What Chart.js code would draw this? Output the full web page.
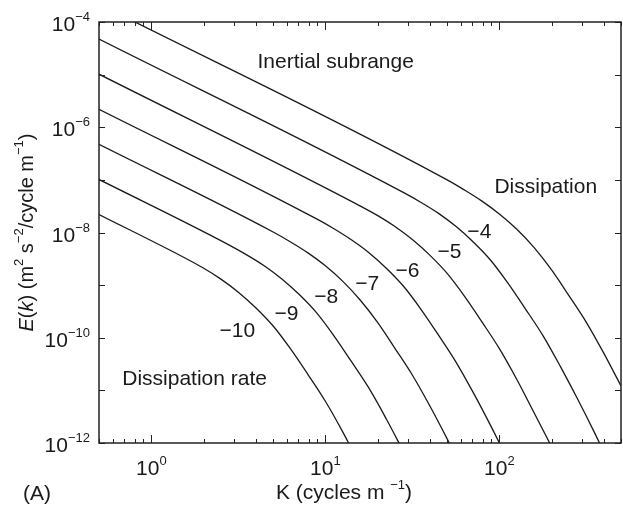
<!DOCTYPE html>
<html>
<head>
<meta charset="utf-8">
<script src="https://cdn.jsdelivr.net/npm/chart.js@4.4.1/dist/chart.umd.min.js"></script>
<style>
  html, body { margin: 0; padding: 0; background: #fff; }
</style>
</head>
<body>
<canvas id="chart" width="623" height="509"></canvas>
<script>
// curve labels: log10 of the dissipation rate
const rates = ['\u22124', '\u22125', '\u22126', '\u22127', '\u22128', '\u22129', '\u221210'];

// wavenumber K (cycles m^-1) and E(k)
const k4 = [0.5, 50.1, 63.1, 79.4, 100, 126, 158, 200, 251, 316, 398, 501];
const e4 = [2.2e-4, 1.0e-7, 6.4e-8, 3.95e-8, 2.25e-8, 1.15e-8, 5.2e-9, 1.92e-9, 6.31e-10, 1.96e-10, 5.09e-11, 1.20e-11];
const k5 = [0.5, 28.2, 35.5, 44.7, 56.2, 70.8, 89.1, 112, 141, 178, 224, 282, 355, 447];
const e5 = [4.73e-5, 5.71e-8, 3.72e-8, 2.31e-8, 1.31e-8, 6.61e-9, 2.97e-9, 1.09e-9, 3.55e-10, 1.10e-10, 2.86e-11, 6.76e-12, 1.49e-12, 3.07e-13];
const k6 = [0.5, 15.8, 20.0, 25.1, 31.6, 39.8, 50.1, 63.1, 79.4, 100, 126, 158, 200];
const e6 = [1.02e-5, 3.21e-8, 2.09e-8, 1.30e-8, 7.36e-9, 3.72e-9, 1.67e-9, 6.12e-10, 2.0e-10, 6.21e-11, 1.61e-11, 3.80e-12, 8.37e-13];
const k7 = [0.5, 8.91, 11.2, 14.1, 17.8, 22.4, 28.2, 35.5, 44.7, 56.2, 70.8, 89.1, 112];
const e7 = [2.20e-6, 1.81e-8, 1.18e-8, 7.29e-9, 4.14e-9, 2.09e-9, 9.40e-10, 3.44e-10, 1.12e-10, 3.49e-11, 9.06e-12, 2.14e-12, 4.71e-13];
const k8 = [0.5, 5.01, 6.31, 7.94, 10, 12.6, 15.8, 20.0, 25.1, 31.6, 39.8, 50.1, 63.1];
const e8 = [4.73e-7, 1.02e-8, 6.61e-9, 4.10e-9, 2.33e-9, 1.18e-9, 5.28e-10, 1.94e-10, 6.31e-11, 1.96e-11, 5.09e-12, 1.20e-12, 2.65e-13];
const k9 = [0.5, 2.82, 3.55, 4.47, 5.62, 7.08, 8.91, 11.2, 14.1, 17.8, 22.4, 28.2];
const e9 = [1.02e-7, 5.71e-9, 3.72e-9, 2.31e-9, 1.31e-9, 6.61e-10, 2.97e-10, 1.09e-10, 3.55e-11, 1.10e-11, 2.86e-12, 6.76e-13];
const k10 = [0.5, 1.58, 2.0, 2.51, 3.16, 3.98, 5.01, 6.31, 7.94, 10, 12.6, 15.8];
const e10 = [2.20e-8, 3.21e-9, 2.09e-9, 1.30e-9, 7.36e-10, 3.72e-10, 1.67e-10, 6.12e-11, 2.0e-11, 6.21e-12, 1.61e-12, 3.80e-13];

// where each rate label sits (K, E at text baseline)
const rateLabelK = [76.7, 51.6, 29.6, 17.4, 10.1, 5.97, 3.12];
const rateLabelE = [7.8e-9, 3.26e-9, 1.42e-9, 8.0e-10, 4.55e-10, 2.16e-10, 1.03e-10];

// tick labels
const xTickVals = [1, 10, 100];
const xTickExp = ['0', '1', '2'];
const yTickVals = [1e-4, 1e-6, 1e-8, 1e-10, 1e-12];
const yTickExp = ['\u22124', '\u22126', '\u22128', '\u221210', '\u221212'];

const curves = [[k4, e4], [k5, e5], [k6, e6], [k7, e7], [k8, e8], [k9, e9], [k10, e10]];

const FONT = '"Liberation Sans", Arial, Helvetica, sans-serif';
const INK = '#1a1a1a';

// draw a run of text pieces: [text, 'i' | 'sup' | '']
function drawRuns(ctx, parts, x, y, align, size) {
  size = size || 21;
  const fontFor = s => s === 'sup' ? '13px ' + FONT : (s === 'i' ? 'italic ' + size + 'px ' + FONT : size + 'px ' + FONT);
  let total = 0;
  parts.forEach(p => { ctx.font = fontFor(p[1]); total += ctx.measureText(p[0]).width; });
  let cx = align === 'center' ? x - total / 2 : (align === 'right' ? x - total : x);
  ctx.textAlign = 'left';
  ctx.textBaseline = 'alphabetic';
  parts.forEach(p => {
    ctx.font = fontFor(p[1]);
    ctx.fillText(p[0], cx, p[1] === 'sup' ? y - 10 : y);
    cx += ctx.measureText(p[0]).width;
  });
}

const frame = {
  id: 'frame',
  afterDatasetsDraw(chart) {
    const { ctx, chartArea: a, scales: { x, y } } = chart;
    ctx.save();
    ctx.strokeStyle = '#222';
    ctx.fillStyle = INK;

    const seg = (x1, y1, x2, y2) => { ctx.beginPath(); ctx.moveTo(x1, y1); ctx.lineTo(x2, y2); ctx.stroke(); };

    // inward ticks, bottom and top
    ctx.lineWidth = 1;
    for (let d = -1; d <= 2; d++) {
      for (let m = 1; m <= 9; m++) {
        const v = m * Math.pow(10, d);
        if (v < 0.5 || v > 500) continue;
        const px = Math.round(x.getPixelForValue(v)) + 0.5;
        const len = m === 1 ? 8 : 4;
        seg(px, a.bottom, px, a.bottom - len);
        seg(px, a.top, px, a.top + len);
      }
    }
    // inward ticks, left and right, every decade
    for (let d = -12; d <= -4; d++) {
      const py = Math.round(y.getPixelForValue(Math.pow(10, d))) + 0.5;
      seg(a.left, py, a.left + 6, py);
      seg(a.right, py, a.right - 6, py);
    }

    ctx.lineWidth = 1.5;
    ctx.strokeRect(a.left, a.top, a.right - a.left, a.bottom - a.top);

    // tick labels
    xTickVals.forEach((v, i) => {
      drawRuns(ctx, [['10', ''], [xTickExp[i], 'sup']], x.getPixelForValue(v), 475, 'center');
    });
    yTickVals.forEach((v, i) => {
      drawRuns(ctx, [['10', ''], [yTickExp[i], 'sup']], 90, y.getPixelForValue(v) + 9, 'right');
    });

    // axis titles
    drawRuns(ctx, [['K (cycles m ', ''], ['\u22121', 'sup'], [')', '']], 344, 499, 'center');
    drawRuns(ctx, [['(A)', '']], 23, 500, 'left');
    ctx.save();
    ctx.translate(33, (a.top + a.bottom) / 2);
    ctx.rotate(-Math.PI / 2);
    drawRuns(ctx, [['E', 'i'], ['(', ''], ['k', 'i'], [') (m', ''], ['2', 'sup'], [' s', ''], ['\u22122', 'sup'], ['/cycle m', ''], ['\u22121', 'sup'], [')', '']], 0, 0, 'center', 20);
    ctx.restore();

    // annotations
    const at = (k, e) => [x.getPixelForValue(k), y.getPixelForValue(e)];
    let p = at(4.07, 1.33e-5);
    drawRuns(ctx, [['Inertial subrange', '']], p[0], p[1], 'left');
    p = at(93.6, 5.6e-8);
    drawRuns(ctx, [['Dissipation', '']], p[0], p[1], 'left');
    p = at(0.68, 1.26e-11);
    drawRuns(ctx, [['Dissipation rate', '']], p[0], p[1], 'left');
    rates.forEach((r, i) => {
      const q = at(rateLabelK[i], rateLabelE[i]);
      drawRuns(ctx, [[r, '']], q[0], q[1], 'center');
    });
    ctx.restore();
  }
};

new Chart(document.getElementById('chart'), {
  type: 'line',
  data: {
    datasets: curves.map((c, i) => ({
      label: rates[i],
      data: c[0].map((k, j) => ({ x: k, y: c[1][j] })),
      borderColor: INK,
      borderWidth: 1.3,
      pointRadius: 0,
      cubicInterpolationMode: 'monotone',
      fill: false
    }))
  },
  options: {
    responsive: false,
    animation: false,
    events: [],
    layout: { padding: { left: 99, top: 22, right: 2, bottom: 66 } },
    plugins: { legend: { display: false }, tooltip: { enabled: false } },
    scales: {
      x: { type: 'logarithmic', min: 0.5, max: 500, display: false },
      y: { type: 'logarithmic', min: 1e-12, max: 1e-4, display: false }
    }
  },
  plugins: [frame]
});
</script>
</body>
</html>
